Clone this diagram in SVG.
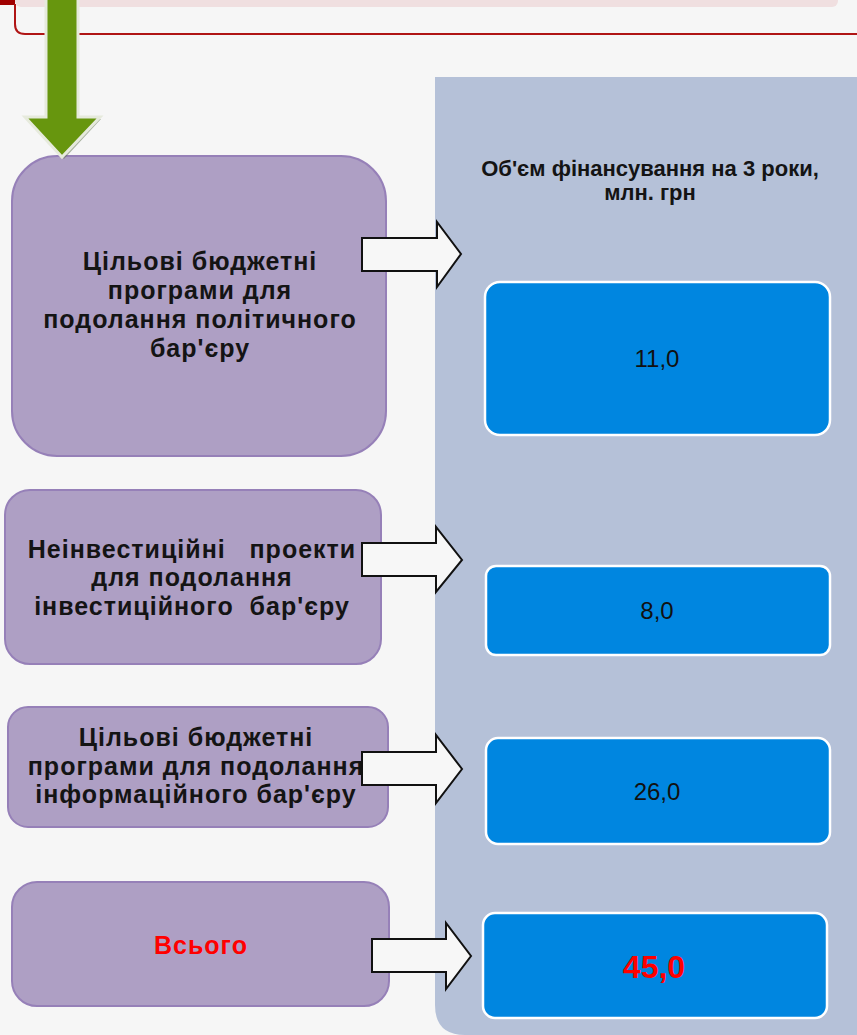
<svg xmlns="http://www.w3.org/2000/svg" width="857" height="1035" viewBox="0 0 857 1035">
<style>
.bg{fill:#f6f6f6}
.panel{fill:#b5c1d8}
.pn{fill:#ae9fc4;stroke:#9680b8;stroke-width:2}
.bl{fill:#0086e0;stroke:#ffffff;stroke-width:2.5}
.t{font-family:"Liberation Sans",Arial,sans-serif;font-weight:bold;font-size:25px;fill:#141414;text-anchor:middle;letter-spacing:1px}
.h{font-family:"Liberation Sans",Arial,sans-serif;font-weight:bold;font-size:22px;fill:#141414;text-anchor:middle}
.v{font-family:"Liberation Sans",Arial,sans-serif;font-size:24px;fill:#111;text-anchor:middle}
.red{fill:#ff0000}
.ba{fill:#f7f7f7;stroke:#111;stroke-width:2;stroke-linejoin:miter}
</style>
<rect class="bg" x="0" y="0" width="857" height="1035"/>
<rect x="15" y="-12" width="823" height="19" rx="6" fill="#f0dfe0"/>
<rect x="0" y="0" width="15" height="5" fill="#a00000"/>
<path d="M15 4 V24 Q15 34 25 34 H857" fill="none" stroke="#b01515" stroke-width="2"/>
<path class="panel" d="M435 77 H857 V1035 H465 Q435 1035 435 1005 Z"/>
<text class="h" x="650" y="176">Об'єм фінансування на 3 роки,</text>
<text class="h" x="650" y="200">млн. грн</text>

<g id="node1">
<rect class="pn" x="12" y="156" width="374" height="300" rx="45"/>
<text class="t" x="200" y="270">Цільові бюджетні</text>
<text class="t" x="200" y="299">програми для</text>
<text class="t" x="200" y="328">подолання політичного</text>
<text class="t" x="200" y="357">бар'єру</text>
</g>
<g id="node2">
<rect class="pn" x="5" y="490" width="376" height="174" rx="25"/>
<text class="t" x="192" y="558" xml:space="preserve">Неінвестиційні   проекти</text>
<text class="t" x="192" y="586">для подолання</text>
<text class="t" x="192" y="615" xml:space="preserve">інвестиційного  бар'єру</text>
</g>
<g id="node3">
<rect class="pn" x="8" y="707" width="380" height="120" rx="20"/>
<text class="t" x="196" y="746">Цільові бюджетні</text>
<text class="t" x="196" y="775">програми для подолання</text>
<text class="t" x="196" y="803">інформаційного бар'єру</text>
</g>
<g id="node4">
<rect class="pn" x="12" y="882" width="377" height="124" rx="25"/>
<text class="t red" x="201" y="954">Всього</text>
</g>
<g id="value1">
<rect class="bl" x="485" y="282" width="345" height="153" rx="15"/>
<text class="v" x="657" y="367">11,0</text>
</g>
<g id="value2">
<rect class="bl" x="486" y="566" width="344" height="89" rx="10"/>
<text class="v" x="657" y="619">8,0</text>
</g>
<g id="value3">
<rect class="bl" x="486" y="738" width="344" height="106" rx="12"/>
<text class="v" x="657" y="800">26,0</text>
</g>
<g id="value4">
<rect class="bl" x="483" y="913" width="344" height="105" rx="12"/>
<text class="v red" x="654" y="978" style="font-weight:bold;font-size:32px">45,0</text>
</g>

<g id="connectors">
<path d="M49 -5 H79 V119 H101 L64 159 L28 119 H49 Z" fill="#5c6d4a" opacity="0.5"/>
<path d="M46 -5 H78 V117 H100 L62 157 L25 117 H46 Z" fill="#67960e" stroke="#e6eadc" stroke-width="3" stroke-linejoin="miter"/>
<path class="ba" d="M362 238 H437 V222 L461 254 L437 287 V271 H362 Z"/>
<path class="ba" d="M362 543 H436 V527 L462 560 L436 592 V576 H362 Z"/>
<path class="ba" d="M362 752 H436 V735 L462 769 L436 803 V785 H362 Z"/>
<path class="ba" d="M372 939 H446 V923 L471 956 L446 989 V972 H372 Z"/>
</g>
</svg>
